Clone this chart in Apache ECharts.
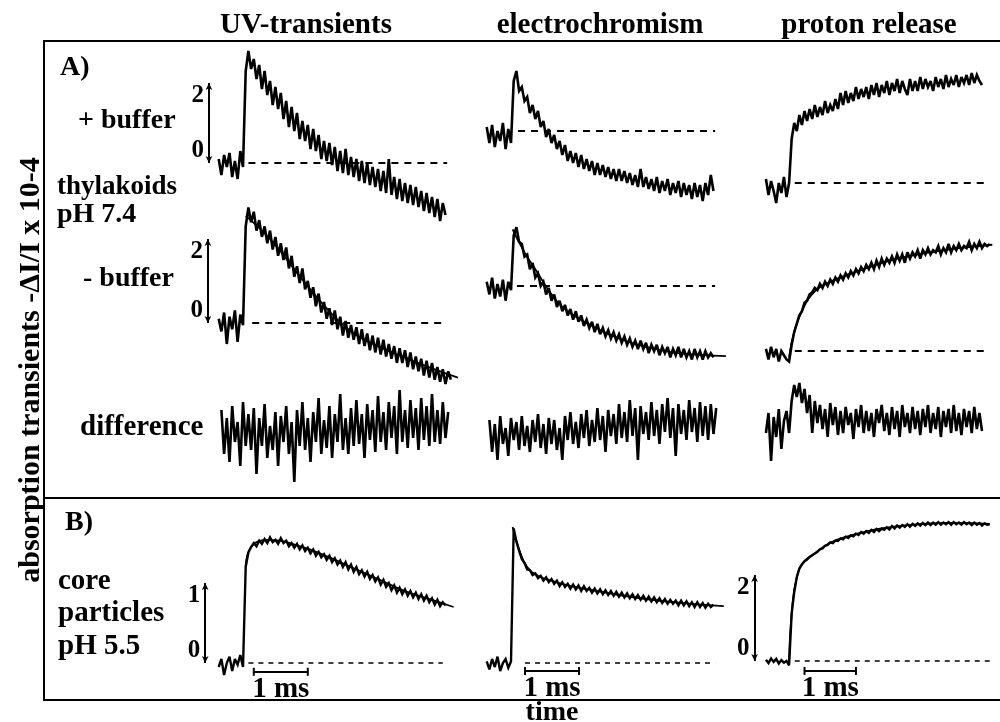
<!DOCTYPE html>
<html><head><meta charset="utf-8">
<script src="https://cdn.jsdelivr.net/npm/echarts@6/dist/echarts.min.js"></script>
<style>html,body{margin:0;padding:0;background:#fff}#c{width:1000px;height:722px}</style>
</head><body><div id="c"></div>
<script>
// ---------- text ----------
const columnTitles = ['UV-transients', 'electrochromism', 'proton release'];
const yTitle = 'absorption transients -\u0394I/I x 10-4';
const xTitle = 'time';
const scaleTicksA = ['0', '2'];
const scaleTicksCoreUV = ['0', '1'];
const scaleTicksCorePR = ['0', '2'];
const timeBarLabel = '1 ms';

// ---------- sampling (ms) ----------
const T_STEP = 0.05;
const T0 = -0.45;
const T0_DIFF = -0.4;

// ---------- traces (-dI/I x 10^-4) ----------
const uvPlus = [0.1,-0.3,0.2,-0.1,0.25,-0.35,0.05,-0.4,0.3,-0.1,
2.3,2.8,2.35,2.6,2.1,2.45,1.85,2.3,1.7,2.05,
1.45,1.9,1.35,1.75,1.1,1.55,0.9,1.4,0.8,1.25,
0.6,1.05,0.55,0.95,0.35,0.85,0.3,0.7,0.1,0.55,
0.05,0.5,-0.05,0.4,-0.2,0.3,-0.25,0.35,-0.3,0.15,
-0.35,0.1,-0.45,0.05,-0.5,0.0,-0.55,-0.1,-0.6,-0.15,
-0.7,-0.2,-0.75,0.1,-0.8,-0.35,-0.9,-0.4,-0.95,-0.5,
-1.0,-0.55,-1.05,-0.6,-1.1,-0.7,-1.2,-0.75,-1.25,-0.85,
-1.35,-0.9,-1.45,-1.0,-1.3];
const uvMinus = [0.1,-0.2,0.25,-0.5,0.15,-0.15,0.3,-0.45,0.2,-0.05,
2.3,2.75,2.4,2.65,2.2,2.45,2.05,2.3,1.9,2.2,
1.75,2.05,1.6,1.9,1.5,1.8,1.3,1.6,1.1,1.35,
0.95,1.3,0.8,1.0,0.6,0.85,0.4,0.7,0.25,0.5,
0.1,0.35,-0.05,0.3,-0.15,0.15,-0.3,0.05,-0.35,-0.05,
-0.4,-0.1,-0.5,-0.15,-0.55,-0.25,-0.65,-0.3,-0.7,-0.35,
-0.75,-0.4,-0.8,-0.5,-0.85,-0.55,-0.95,-0.6,-0.95,-0.65,
-1.05,-0.7,-1.1,-0.8,-1.15,-0.85,-1.25,-0.9,-1.3,-0.95,
-1.35,-1.05,-1.4,-1.1,-1.45,-1.15,-1.35];
const uvMinusFit = [[0.05,2.55],[0.5,2.0],[1.0,1.2],[1.5,0.42],[2.0,-0.2],[2.5,-0.55],[3.0,-0.82],[3.5,-1.08],[3.98,-1.3]];
const uvDiff = [0.5,-0.6,0.3,-0.8,0.6,-0.3,0.2,-0.9,0.7,-0.4,
0.4,-0.5,0.55,-1.1,0.3,-0.4,0.65,-0.7,0.1,-0.5,
0.45,-0.9,0.35,-0.3,0.6,-0.6,0.2,-1.3,0.5,-0.4,
0.7,-0.5,0.3,-0.8,0.45,-0.3,0.8,-0.6,0.25,-0.45,
0.6,-0.7,0.4,-0.3,0.9,-0.5,0.3,-0.6,0.55,-0.4,
0.75,-0.35,0.4,-0.7,0.65,-0.25,0.5,-0.55,0.85,-0.3,
0.45,-0.5,0.7,-0.2,0.6,-0.6,1.0,-0.3,0.5,-0.45,
0.75,-0.2,0.55,-0.5,0.8,-0.25,0.6,-0.4,0.9,-0.3,
0.5,-0.35,0.7,-0.2,0.45];

const ecPlus = [0.1,-0.3,0.15,-0.4,0.0,-0.25,0.2,-0.45,0.05,-0.3,
1.25,1.5,1.0,1.1,0.75,0.85,0.45,0.65,0.3,0.5,
0.1,0.25,-0.15,0.05,-0.3,-0.1,-0.45,-0.25,-0.6,-0.35,
-0.75,-0.5,-0.8,-0.55,-0.9,-0.6,-0.95,-0.7,-1.0,-0.75,
-1.1,-0.8,-1.1,-0.85,-1.15,-0.9,-1.2,-0.95,-1.25,-0.95,
-1.25,-1.0,-1.3,-1.05,-1.35,-1.1,-1.4,-0.95,-1.4,-1.15,
-1.45,-1.2,-1.5,-1.15,-1.55,-1.25,-1.5,-1.2,-1.6,-1.3,
-1.55,-1.25,-1.65,-1.3,-1.6,-1.35,-1.7,-1.3,-1.65,-1.35,
-1.75,-1.3,-1.6,-1.1,-1.5];
const ecMinus = [0.1,-0.2,0.2,-0.3,0.05,-0.25,0.15,-0.35,0.1,-0.1,
1.2,1.4,1.05,1.0,0.7,0.75,0.4,0.55,0.2,0.3,
0.0,0.1,-0.2,-0.05,-0.35,-0.2,-0.5,-0.35,-0.6,-0.45,
-0.7,-0.55,-0.8,-0.6,-0.85,-0.7,-0.95,-0.8,-1.0,-0.85,
-1.1,-0.9,-1.15,-1.0,-1.2,-1.05,-1.25,-1.1,-1.3,-1.15,
-1.35,-1.2,-1.4,-1.25,-1.45,-1.3,-1.5,-1.3,-1.5,-1.35,
-1.6,-1.4,-1.55,-1.4,-1.65,-1.45,-1.6,-1.45,-1.7,-1.5,
-1.65,-1.45,-1.7,-1.5,-1.7,-1.55,-1.75,-1.5,-1.7,-1.55,
-1.75,-1.55,-1.7,-1.6,-1.7];
const ecMinusFit = [[0.03,1.35],[0.25,0.8],[0.5,0.3],[0.75,-0.2],[1.0,-0.55],[1.5,-0.95],[2.0,-1.25],[2.5,-1.45],[3.0,-1.58],[3.5,-1.64],[3.98,-1.67]];
const ecDiff = [0.3,-0.5,0.2,-0.7,0.4,-0.3,0.1,-0.6,0.35,-0.2,
0.25,-0.45,0.4,-0.35,0.15,-0.5,0.3,-0.25,0.45,-0.4,
0.2,-0.55,0.35,-0.3,0.3,-0.45,0.1,-0.7,0.4,-0.2,
0.5,-0.3,0.25,-0.4,0.45,-0.15,0.55,-0.35,0.3,-0.25,
0.6,-0.2,0.4,-0.5,0.55,-0.1,0.45,-0.3,0.7,-0.15,
0.5,-0.25,0.8,-0.1,0.6,-0.7,0.65,-0.05,0.5,-0.2,
0.75,-0.1,0.55,-0.3,0.7,0.0,0.85,-0.15,0.6,-0.6,
0.7,-0.05,0.55,-0.2,0.8,0.0,0.6,-0.25,0.75,-0.1,
0.65,-0.2,0.7,-0.05,0.6];

const prPlus = [0.1,-0.3,0.05,-0.2,-0.5,0.0,-0.25,0.15,-0.35,0.0,
1.1,1.5,1.3,1.7,1.45,1.8,1.55,1.85,1.6,1.95,
1.65,1.9,1.7,2.05,1.75,1.95,1.8,2.1,1.85,2.25,
1.95,2.3,2.0,2.25,2.05,2.4,2.1,2.35,2.15,2.4,
2.1,2.45,2.2,2.5,2.15,2.45,2.25,2.55,2.2,2.5,
2.3,2.6,2.25,2.55,2.35,2.2,2.6,2.3,2.55,2.3,
2.65,2.35,2.6,2.4,2.55,2.3,2.65,2.4,2.6,2.35,
2.7,2.4,2.6,2.45,2.7,2.4,2.65,2.5,2.7,2.45,
2.75,2.5,2.7,2.55,2.45];
const prMinus = [0.05,-0.2,0.1,-0.15,0.05,-0.25,0.0,-0.1,-0.2,-0.25,
0.15,0.45,0.65,0.85,0.95,1.15,1.2,1.35,1.4,1.5,
1.45,1.6,1.5,1.65,1.55,1.7,1.6,1.75,1.65,1.8,
1.7,1.85,1.75,1.9,1.8,1.95,1.85,2.0,1.9,2.05,
1.95,2.1,1.95,2.15,2.0,2.2,2.05,2.2,2.1,2.25,
2.1,2.3,2.15,2.3,2.1,2.35,2.2,2.35,2.25,2.4,
2.2,2.4,2.3,2.45,2.3,2.4,2.35,2.5,2.3,2.45,
2.35,2.55,2.35,2.5,2.4,2.55,2.4,2.5,2.45,2.6,
2.4,2.55,2.45,2.6,2.45,2.55,2.5,2.55];
const prMinusFit = [[0.0,-0.15],[0.1,0.45],[0.25,0.95],[0.5,1.42],[0.8,1.65],[1.1,1.8],[1.5,1.97],[2.0,2.17],[2.6,2.32],[3.3,2.45],[3.95,2.53]];
const prDiff = [-0.2,0.3,-0.9,0.2,-0.3,0.4,-0.6,0.1,0.35,-0.2,
0.6,1.0,0.7,1.05,0.55,0.9,0.3,0.75,-0.2,0.6,
0.05,0.5,-0.1,0.4,-0.3,0.55,0.0,0.45,-0.25,0.35,
-0.2,0.45,0.0,0.3,-0.35,0.4,-0.05,0.5,-0.2,0.35,
-0.15,0.3,-0.3,0.4,0.05,0.5,-0.15,0.3,-0.25,0.45,
-0.1,0.35,-0.3,0.5,-0.05,0.3,-0.2,0.45,-0.1,0.35,
-0.25,0.4,-0.05,0.5,-0.2,0.3,-0.1,0.45,-0.3,0.35,
-0.05,0.4,-0.2,0.5,-0.15,0.3,-0.25,0.4,-0.05,0.35,
-0.2,0.45,-0.1,0.3,-0.15];

const uvCore = [-0.05,0.05,-0.15,0.0,0.08,-0.1,0.05,-0.02,0.1,-0.05,
1.2,1.38,1.45,1.5,1.46,1.53,1.49,1.55,1.5,1.57,
1.51,1.54,1.49,1.56,1.5,1.53,1.46,1.5,1.44,1.49,
1.42,1.47,1.4,1.44,1.37,1.42,1.34,1.39,1.32,1.36,
1.29,1.34,1.26,1.31,1.23,1.28,1.2,1.26,1.17,1.23,
1.14,1.2,1.11,1.16,1.08,1.14,1.05,1.1,1.02,1.07,
0.98,1.04,0.95,1.0,0.91,0.97,0.88,0.94,0.86,0.92,
0.84,0.9,0.82,0.88,0.8,0.86,0.78,0.84,0.76,0.81,
0.73,0.79,0.71,0.76,0.72];
const uvCoreFit = [[0.05,1.2],[0.15,1.45],[0.5,1.54],[1.0,1.47],[1.5,1.35],[2.0,1.2],[2.5,1.05],[3.0,0.9],[3.5,0.79],[3.9,0.7]];
const ecCore = [0.02,-0.08,0.05,-0.05,0.08,-0.1,0.0,0.05,-0.06,0.02,
1.68,1.52,1.4,1.3,1.25,1.17,1.16,1.1,1.12,1.06,
1.09,1.03,1.07,1.01,1.05,0.99,1.03,0.96,1.01,0.95,
0.99,0.93,0.98,0.92,0.97,0.9,0.96,0.9,0.94,0.88,
0.93,0.87,0.92,0.86,0.91,0.85,0.9,0.84,0.89,0.83,
0.88,0.82,0.87,0.81,0.86,0.8,0.85,0.79,0.84,0.78,
0.83,0.77,0.82,0.76,0.81,0.75,0.8,0.74,0.79,0.74,
0.78,0.72,0.78,0.72,0.77,0.71,0.76,0.7,0.76,0.7,
0.75,0.69,0.74,0.7,0.73];
const ecCoreFit = [[0.03,1.7],[0.15,1.42],[0.3,1.2],[0.5,1.09],[0.75,1.03],[1.0,0.98],[1.5,0.91],[2.0,0.85],[2.5,0.8],[3.0,0.76],[3.5,0.73],[3.94,0.71]];
const prCore = [0.03,-0.05,0.06,-0.02,0.05,-0.06,0.02,-0.04,0.0,-0.1,
1.1,1.6,1.95,2.15,2.25,2.32,2.36,2.42,2.46,2.5,
2.54,2.6,2.62,2.68,2.7,2.76,2.74,2.8,2.79,2.85,
2.83,2.89,2.86,2.92,2.9,2.96,2.93,3.0,2.96,3.02,
2.98,3.05,3.0,3.07,3.02,3.08,3.05,3.11,3.06,3.14,
3.08,3.15,3.1,3.16,3.12,3.18,3.12,3.19,3.14,3.2,
3.15,3.21,3.16,3.22,3.16,3.22,3.17,3.23,3.17,3.22,
3.18,3.23,3.17,3.23,3.18,3.22,3.17,3.23,3.18,3.22,
3.16,3.22,3.17,3.21,3.15,3.2,3.17,3.18];
const prCoreFit = [[0.0,0.0],[0.05,1.1],[0.15,1.95],[0.3,2.32],[0.5,2.5],[0.8,2.75],[1.2,2.92],[1.6,3.04],[2.0,3.12],[2.6,3.19],[3.2,3.21],[3.9,3.19]];

// ---------- layout ----------
const FONT = '"Liberation Serif", "Times New Roman", serif';
const PX_PER_MS = 54;
const flashX = [243, 511, 791];
const X_MIN = -0.75, X_MAX = 4.1;

const panels = [
  {col:0, zeroY:163, ppu:40, ymin:-2.3, ymax:3.2, trace:uvPlus, t0:T0, dash:[0.1,3.78], dp:[7,6], bar:{t:-0.63, top:2, labels:scaleTicksA}},
  {col:1, zeroY:131, ppu:40, ymin:-2.3, ymax:3.2, trace:ecPlus, t0:T0, dash:[0.13,3.78], dp:[7,6]},
  {col:2, zeroY:183, ppu:40, ymin:-2.3, ymax:3.4, trace:prPlus, t0:T0, dash:[0.11,3.9], dp:[7,6]},
  {col:0, zeroY:323, ppu:42, ymin:-2.0, ymax:3.2, trace:uvMinus, t0:T0, fit:uvMinusFit, dash:[0.17,3.78], dp:[7,6], bar:{t:-0.65, top:2, labels:scaleTicksA}},
  {col:1, zeroY:286, ppu:42, ymin:-2.0, ymax:3.2, trace:ecMinus, t0:T0, fit:ecMinusFit, dash:[0.11,3.78], dp:[7,6]},
  {col:2, zeroY:351, ppu:42, ymin:-2.0, ymax:3.2, trace:prMinus, t0:T0, fit:prMinusFit, dash:[0.11,3.9], dp:[7,6]},
  {col:0, zeroY:430, ppu:40, ymin:-1.8, ymax:1.8, trace:uvDiff, t0:T0_DIFF},
  {col:1, zeroY:432, ppu:40, ymin:-1.8, ymax:1.8, trace:ecDiff, t0:T0_DIFF},
  {col:2, zeroY:425, ppu:40, ymin:-1.8, ymax:1.8, trace:prDiff, t0:T0},
  {col:0, zeroY:663, ppu:80, ymin:-0.5, ymax:1.9, trace:uvCore, t0:T0, fit:uvCoreFit, dash:[0.1,3.7], dp:[5,5], bar:{t:-0.70, top:1, labels:scaleTicksCoreUV}, ms:{t:0.2, y:-0.11}, bold:true},
  {col:1, zeroY:663, ppu:80, ymin:-0.5, ymax:2.0, trace:ecCore, t0:T0, fit:ecCoreFit, dash:[0.26,3.78], dp:[5,5], ms:{t:0.26, y:-0.1}, bold:true},
  {col:2, zeroY:661, ppu:43, ymin:-0.9, ymax:3.6, trace:prCore, t0:T0, fit:prCoreFit, dash:[0.11,3.9], dp:[5,5], bar:{t:-0.67, top:2, labels:scaleTicksCorePR}, ms:{t:0.3, y:-0.23}, bold:true}
];

const grid = [], xAxis = [], yAxis = [], series = [];
panels.forEach((p, i) => {
  grid.push({
    left: flashX[p.col] + X_MIN * PX_PER_MS,
    width: (X_MAX - X_MIN) * PX_PER_MS,
    top: p.zeroY - p.ymax * p.ppu,
    height: (p.ymax - p.ymin) * p.ppu
  });
  xAxis.push({type:'value', gridIndex:i, min:X_MIN, max:X_MAX, show:false});
  yAxis.push({type:'value', gridIndex:i, min:p.ymin, max:p.ymax, show:false});

  const ml = [];
  if (p.dash) ml.push([{coord:[p.dash[0],0], lineStyle:{type:p.dp, width:p.bold?1.6:2, color:'#000'}}, {coord:[p.dash[1],0]}]);
  if (p.bar) ml.push([{coord:[p.bar.t,0], symbol:'arrow', symbolSize:[5,7], lineStyle:{type:'solid', width:2, color:'#000'}},
                      {coord:[p.bar.t,p.bar.top], symbol:'arrow', symbolSize:[5,7]}]);
  if (p.ms) ml.push([{coord:[p.ms.t,p.ms.y], symbol:'rect', symbolSize:[8,2], lineStyle:{type:'solid', width:2, color:'#000'}},
                     {coord:[p.ms.t+1,p.ms.y], symbol:'rect', symbolSize:[8,2]}]);

  series.push({
    type:'line', xAxisIndex:i, yAxisIndex:i,
    data: p.trace.map((v,k) => [p.t0 + k*T_STEP, v]),
    symbol:'none', showSymbol:false, silent:true, animation:false, clip:false,
    lineStyle:{color:'#000', width:p.bold?2.4:2.6, join:'miter', miterLimit:3},
    markLine: ml.length ? {silent:true, animation:false, symbol:'none', label:{show:false},
      itemStyle:{color:'#000'}, emphasis:{disabled:true}, data:ml} : undefined
  });
  if (p.fit) series.push({
    type:'line', xAxisIndex:i, yAxisIndex:i, data:p.fit, smooth:true,
    symbol:'none', showSymbol:false, silent:true, animation:false, clip:false,
    lineStyle:{color:'#000', width:1.8}
  });
  const lab = [];
  if (p.bar) {
    lab.push({value:[p.bar.t,0], label:{formatter:p.bar.labels[0], verticalAlign:'bottom'}});
    lab.push({value:[p.bar.t,p.bar.top], label:{formatter:p.bar.labels[1], verticalAlign:'top'}});
  }
  if (lab.length) series.push({
    type:'scatter', xAxisIndex:i, yAxisIndex:i, data:lab, symbolSize:0, silent:true, animation:false,
    itemStyle:{opacity:1, color:'#000'},
    label:{show:true, position:'left', distance:5, color:'#000', opacity:1, fontFamily:FONT, fontWeight:'bold', fontSize:25}
  });
  if (p.ms) series.push({
    type:'scatter', xAxisIndex:i, yAxisIndex:i, data:[[p.ms.t+0.5, p.ms.y]], symbolSize:0, silent:true, animation:false,
    itemStyle:{opacity:1, color:'#000'},
    label:{show:true, position:'bottom', distance:3, formatter:timeBarLabel, color:'#000', opacity:1, fontFamily:FONT, fontWeight:'bold', fontSize:29}
  });
});

function txt(s, x, y, align, size, rot) {
  const o = {type:'text', x:x, y:y, silent:true,
    style:{text:s, fill:'#000', font:'bold ' + size + 'px ' + FONT, textAlign:align, textVerticalAlign:'middle'}};
  if (rot) o.rotation = rot;
  return o;
}
function ln(x1,y1,x2,y2) {
  return {type:'line', silent:true, shape:{x1:x1,y1:y1,x2:x2,y2:y2}, style:{stroke:'#000', lineWidth:2}};
}
const titleX = [306, 600, 869];
const LAB = 28;
const graphic = [
  ln(44,41,1000,41), ln(44,40,44,701), ln(44,498,1000,498), ln(44,700,1000,700),
  txt(columnTitles[0], titleX[0], 26, 'center', 29),
  txt(columnTitles[1], titleX[1], 26, 'center', 29),
  txt(columnTitles[2], titleX[2], 26, 'center', 29),
  txt(yTitle, 31, 370, 'center', 30, Math.PI/2),
  txt(xTitle, 552, 713, 'center', 28),
  txt('A)', 60, 68, 'left', LAB),
  txt('+ buffer', 78, 121, 'left', LAB),
  txt('thylakoids', 57, 187, 'left', 27),
  txt('pH 7.4', 57, 215, 'left', LAB),
  txt('- buffer', 83, 279, 'left', LAB),
  txt('difference', 80, 428, 'left', 29),
  txt('B)', 65, 523, 'left', LAB),
  txt('core', 58, 582, 'left', 29),
  txt('particles', 58, 614, 'left', 29),
  txt('pH 5.5', 58, 647, 'left', 29)
];

const chart = echarts.init(document.getElementById('c'), null, {renderer:'canvas'});
chart.setOption({backgroundColor:'#fff', animation:false, grid, xAxis, yAxis, series, graphic});
</script></body></html>
